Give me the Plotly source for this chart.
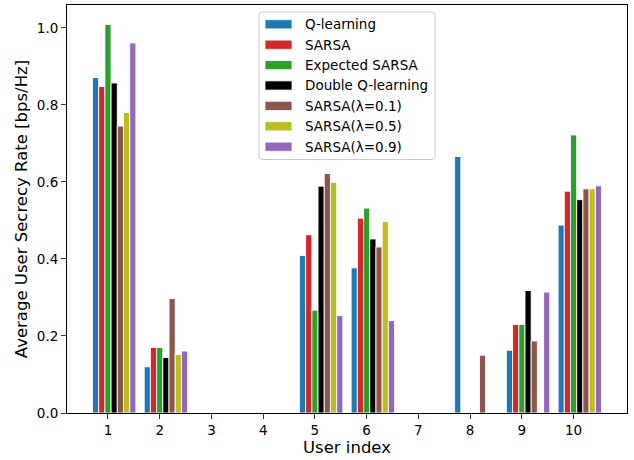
import plotly.graph_objects as go

# Users on the x axis
users = [1, 2, 3, 4, 5, 6, 7, 8, 9, 10]

# Average secrecy rate per user for each learning algorithm [bps/Hz]
q_learning = [0.871, 0.120, 0.0, 0.0, 0.409, 0.377, 0.0, 0.666, 0.163, 0.488]
sarsa = [0.848, 0.170, 0.0, 0.0, 0.463, 0.506, 0.0, 0.0, 0.230, 0.576]
expected_sarsa = [1.009, 0.170, 0.0, 0.0, 0.267, 0.532, 0.0, 0.0, 0.230, 0.722]
double_q = [0.857, 0.144, 0.0, 0.0, 0.589, 0.452, 0.0, 0.0, 0.318, 0.554]
sarsa_l01 = [0.745, 0.297, 0.0, 0.0, 0.622, 0.431, 0.0, 0.150, 0.187, 0.582]
sarsa_l05 = [0.780, 0.152, 0.0, 0.0, 0.599, 0.497, 0.0, 0.0, 0.0, 0.582]
sarsa_l09 = [0.961, 0.161, 0.0, 0.0, 0.253, 0.240, 0.0, 0.0, 0.314, 0.590]

series_names = ["Q-learning", "SARSA", "Expected SARSA", "Double Q-learning",
                "SARSA(λ=0.1)", "SARSA(λ=0.5)", "SARSA(λ=0.9)"]
series_values = [q_learning, sarsa, expected_sarsa, double_q,
                 sarsa_l01, sarsa_l05, sarsa_l09]
colors = ["#1f77b4", "#d62728", "#2ca02c", "#000000",
          "#8c564b", "#bcbd22", "#9467bd"]

y_ticks = [0.0, 0.2, 0.4, 0.6, 0.8, 1.0]

BAR_W = 0.12
FONT = "DejaVu Sans"

fig = go.Figure()
for k, (name, vals, col) in enumerate(zip(series_names, series_values, colors)):
    xs = [u + (k - 2) * BAR_W for u in users]
    fig.add_trace(go.Bar(
        x=xs, y=vals, width=BAR_W, name=name,
        marker=dict(color=col, line=dict(color="white", width=0.9)),
        showlegend=False,
    ))

# Axis limits with 5% padding around the bars
x_lo = min(users) - 2 * BAR_W - BAR_W / 2
x_hi = max(users) + 4 * BAR_W + BAR_W / 2
pad = 0.05 * (x_hi - x_lo)
y_top = max(max(v) for v in series_values) * 1.05

# Plot area in pixels (figure is 634 x 460)
W, H = 634, 460
L, R, T, B = 67, 7, 5, 47
pw, ph = W - L - R, H - T - B


def px_x(px):
    return (px - L) / pw


def px_y(py):
    return (H - B - py) / ph


# Legend box drawn as shapes + text
shapes = []
bx0, bx1, by0, by1, rad = 259, 435, 12, 159.5, 3
path = (f"M {px_x(bx0 + rad)},{px_y(by0)} L {px_x(bx1 - rad)},{px_y(by0)} "
        f"Q {px_x(bx1)},{px_y(by0)} {px_x(bx1)},{px_y(by0 + rad)} "
        f"L {px_x(bx1)},{px_y(by1 - rad)} "
        f"Q {px_x(bx1)},{px_y(by1)} {px_x(bx1 - rad)},{px_y(by1)} "
        f"L {px_x(bx0 + rad)},{px_y(by1)} "
        f"Q {px_x(bx0)},{px_y(by1)} {px_x(bx0)},{px_y(by1 - rad)} "
        f"L {px_x(bx0)},{px_y(by0 + rad)} "
        f"Q {px_x(bx0)},{px_y(by0)} {px_x(bx0 + rad)},{px_y(by0)} Z")
shapes.append(dict(type="path", xref="paper", yref="paper", path=path,
                   line=dict(color="#cccccc", width=1),
                   fillcolor="rgba(255,255,255,0.8)", layer="above"))
annotations = []
for i, (name, col) in enumerate(zip(series_names, colors)):
    cy = 24.3 + 20.4 * i
    shapes.append(dict(type="rect", xref="paper", yref="paper",
                       x0=px_x(265), x1=px_x(292),
                       y0=px_y(cy - 4.6), y1=px_y(cy + 4.6),
                       fillcolor=col, line=dict(color="white", width=0.8),
                       layer="above"))
    annotations.append(dict(xref="paper", yref="paper", x=px_x(303), y=px_y(cy),
                            text=name, showarrow=False, xanchor="left",
                            yanchor="middle",
                            font=dict(family=FONT, size=13.5, color="black")))

fig.update_layout(
    width=W, height=H,
    margin=dict(l=L, r=R, t=T, b=B),
    paper_bgcolor="white", plot_bgcolor="white",
    barmode="overlay",
    font=dict(family=FONT, size=13, color="black"),
    shapes=shapes, annotations=annotations,
    xaxis=dict(
        range=[x_lo - pad, x_hi + pad],
        tickmode="array", tickvals=users, ticktext=[str(u) for u in users],
        ticks="outside", ticklen=5, tickwidth=1, tickcolor="#333333",
        showline=True, linecolor="black", linewidth=1, mirror=True,
        showgrid=False, zeroline=False,
        tickfont=dict(family=FONT, size=13.5),
        title=dict(text="User index", font=dict(family=FONT, size=16.5), standoff=4),
    ),
    yaxis=dict(
        range=[0, y_top],
        tickmode="array", tickvals=y_ticks, ticktext=[f"{v:.1f}" for v in y_ticks],
        ticks="outside", ticklen=5, tickwidth=1, tickcolor="#333333",
        showline=True, linecolor="black", linewidth=1, mirror=True,
        showgrid=False, zeroline=False,
        tickfont=dict(family=FONT, size=13.5),
        title=dict(text="Average User Secrecy Rate [bps/Hz]",
                   font=dict(family=FONT, size=16.5), standoff=5),
    ),
)

fig.write_html("out.html")
